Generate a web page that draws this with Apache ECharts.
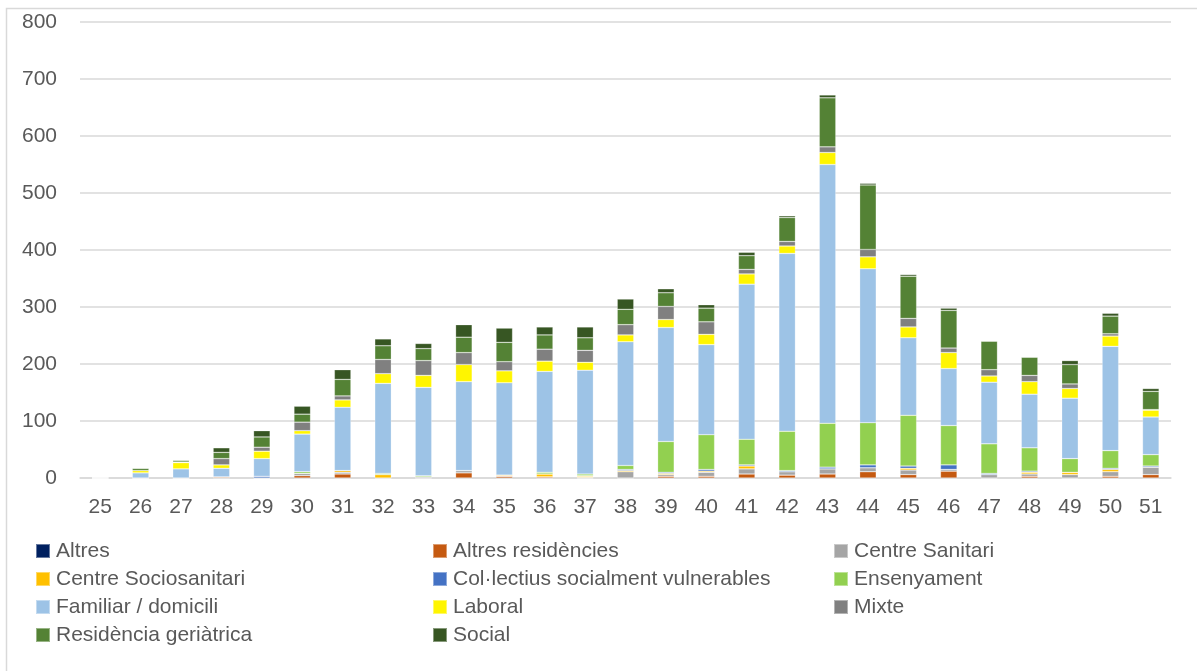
<!DOCTYPE html>
<html>
<head>
<meta charset="utf-8">
<script src="https://cdn.jsdelivr.net/npm/echarts@6/dist/echarts.min.js"></script>
<style>
  html, body { margin: 0; padding: 0; background: #ffffff; }
  #chart { width: 1197px; height: 671px; }
</style>
</head>
<body>
<div id="chart"></div>
<script>
// Setmanes epidemiològiques
const weeks = ['25','26','27','28','29','30','31','32','33','34','35','36','37','38','39','40','41','42','43','44','45','46','47','48','49','50','51'];

// Casos per àmbit de contagi i setmana (25 → 51)
const altres            = [0,0,0,0,0,0,0,0,0,0,0,0,0,0,0,0,0,0,0,0,0,0,0,0,0,0,0];
const altresResidencies = [0,0,0,2,0,4,7,0,0,9,3,2,0,0,3,3,7,5,7,11,6,12,0,3,0,3,6];
const centreSanitari    = [0,0,0,0,0,4,3,0,2,4,0,0,1,11,3,7,9,6,9,7,8,3,6,4,6,8,13];
const centreSociosan    = [0,0,0,0,0,0,3,6,0,0,2,5,2,2,2,2,5,0,0,0,3,0,0,3,4,4,0];
const collectius        = [0,0,0,0,3,0,0,0,0,0,0,0,1,2,2,3,2,2,3,5,4,8,2,2,0,2,2];
const ensenyament       = [0,0,0,0,0,3,0,2,2,0,0,3,3,7,54,61,45,69,77,74,89,69,52,41,24,31,20];
const familiar          = [0,9,16,15,31,66,111,158,155,156,162,177,182,217,200,158,272,312,454,270,136,100,108,94,106,183,66];
const laboral           = [0,4,11,6,13,6,13,17,21,30,21,18,14,12,14,18,18,13,21,21,19,28,11,22,17,18,12];
const mixte             = [0,0,1,11,7,15,7,25,26,21,16,21,21,18,23,22,8,8,10,13,15,8,11,11,8,4,1];
const residencia        = [0,4,3,11,18,14,29,24,21,27,34,25,22,27,24,24,24,42,86,113,74,66,50,32,34,31,32];
const social            = [0,0,1,8,11,14,17,12,9,22,25,14,19,18,7,6,6,3,5,3,3,4,1,0,7,5,5];

const yTicks = { min: 0, max: 800, interval: 100 };

const seriesDefs = [
  { name: 'Altres',                            data: altres,            color: '#002060' },
  { name: 'Altres residències',                data: altresResidencies, color: '#C55A11' },
  { name: 'Centre Sanitari',                   data: centreSanitari,    color: '#A5A5A5' },
  { name: 'Centre Sociosanitari',              data: centreSociosan,    color: '#FFC000' },
  { name: 'Col·lectius socialment vulnerables', data: collectius,        color: '#4472C4' },
  { name: 'Ensenyament',                       data: ensenyament,       color: '#92D050' },
  { name: 'Familiar / domicili',               data: familiar,          color: '#9DC3E6' },
  { name: 'Laboral',                           data: laboral,           color: '#FFF500' },
  { name: 'Mixte',                             data: mixte,             color: '#808080' },
  { name: 'Residència geriàtrica',             data: residencia,        color: '#548235' },
  { name: 'Social',                            data: social,            color: '#375623' }
];

const textColor = '#595959';
const fontFamily = '"Liberation Sans", Arial, sans-serif';

// Legend laid out in three columns, filled row by row
const legendColumns = [
  { left: 35,  names: [0, 3, 6, 9] },
  { left: 432, names: [1, 4, 7, 10] },
  { left: 833, names: [2, 5, 8] }
];

const chart = echarts.init(document.getElementById('chart'), null, { renderer: 'canvas' });

chart.setOption({
  backgroundColor: '#ffffff',
  animation: false,
  graphic: [{
    type: 'rect',
    shape: { x: 6.5, y: 8.5, width: 1250, height: 720 },
    style: { fill: 'none', stroke: '#D9D9D9', lineWidth: 1.5 },
    silent: true,
    z: -1
  }],
  grid: { left: 80, right: 26, top: 22, bottom: 193, containLabel: false },
  legend: legendColumns.map(col => ({
    orient: 'vertical',
    left: col.left,
    top: 540,
    padding: 0,
    itemWidth: 14,
    itemHeight: 14,
    itemGap: 6,
    icon: 'rect',
    selectedMode: false,
    textStyle: { color: textColor, fontSize: 21, fontFamily: fontFamily, lineHeight: 22, padding: [0, 0, 0, 1] },
    data: col.names.map(i => seriesDefs[i].name)
  })),
  xAxis: {
    type: 'category',
    data: weeks,
    axisLine: { show: true, lineStyle: { color: '#D9D9D9', width: 1.5 } },
    axisTick: { show: false },
    axisLabel: { color: textColor, fontSize: 21, fontFamily: fontFamily, margin: 19, interval: 0 }
  },
  yAxis: {
    type: 'value',
    min: yTicks.min,
    max: yTicks.max,
    interval: yTicks.interval,
    axisLine: { show: false },
    axisTick: { show: false },
    splitLine: { lineStyle: { color: '#D9D9D9', width: 1.5 } },
    axisLabel: { color: textColor, fontSize: 21, fontFamily: fontFamily, margin: 23 }
  },
  series: seriesDefs.map(s => ({
    name: s.name,
    type: 'bar',
    stack: 'total',
    barWidth: '41%',
    data: s.data,
    itemStyle: { color: s.color, borderColor: 'rgba(255,255,255,0.4)', borderWidth: 0.6 },
    emphasis: { disabled: true }
  }))
});
</script>
</body>
</html>
